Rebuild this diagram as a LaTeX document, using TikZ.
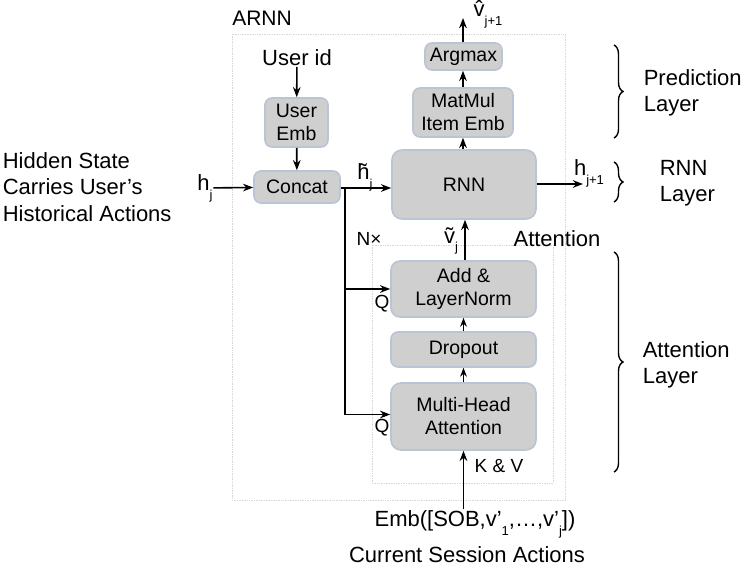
\documentclass[tikz,border=0pt]{standalone}
\usepackage{fontspec}
\setmainfont{Liberation Sans}
\usetikzlibrary{arrows.meta,decorations.pathreplacing}

\definecolor{boxfill}{RGB}{207,207,207}
\definecolor{boxline}{RGB}{185,196,212}
\definecolor{frameline}{RGB}{215,215,215}

\newcommand{\lowsub}[1]{\raisebox{-0.4em}{\fontsize{13}{13}\selectfont #1}}

\tikzset{
  blk/.style={draw=boxline, fill=boxfill, rounded corners=7pt, align=center, inner sep=0pt, font=\fontsize{19.5}{23}\selectfont},
  lbl/.style={align=center, inner sep=0pt, font=\fontsize{22}{26}\selectfont},
  sml/.style={inner sep=0pt, font=\fontsize{19}{22}\selectfont},
  frame/.style={draw=frameline, densely dotted, line width=0.7pt},
  brc/.style={decorate, decoration={brace, amplitude=9pt, aspect=0.5}, line width=1.4pt},
}

\begin{document}
\begin{tikzpicture}[x=1pt, y=-1pt, line width=1.6pt, >=Stealth]
  \useasboundingbox (0,0) rectangle (747,569);
  % frames
  \draw[frame] (232,34) rectangle (565,500);
  \draw[frame] (372,245) rectangle (553,483);
  \node[lbl, font=\fontsize{21}{25}\selectfont] (arnn) at (262,18) {ARNN};

  % blocks
  \node[blk, minimum width=77pt, minimum height=27pt] (argmax) at (463.5,56.5) {Argmax};
  \node[blk, minimum width=100pt, minimum height=49pt] (matmul) at (463,112.5) {MatMul\\Item Emb};
  \node[blk, minimum width=144pt, minimum height=69pt, rounded corners=10pt] (rnn) at (464,184.5) {RNN};
  \node[blk, minimum width=63pt, minimum height=49pt] (useremb) at (296.5,122.5) {User\\Emb};
  \node[blk, minimum width=86pt, minimum height=32pt] (concat) at (297,187) {Concat};
  \node[blk, minimum width=145pt, minimum height=56pt, rounded corners=9pt] (addnorm) at (463.5,289) {Add \&\\LayerNorm};
  \node[blk, minimum width=145pt, minimum height=35pt] (dropout) at (463.5,349.5) {Dropout};
  \node[blk, minimum width=145pt, minimum height=67pt, rounded corners=10pt] (mha) at (463.5,416.5) {Multi-Head\\Attention};

  % texts
  \node[lbl] (userid) at (297,58) {User id};
  \node[lbl, align=left, anchor=west, font=\fontsize{22}{26.5}\selectfont] (hidden) at (2,187) {Hidden State\\Carries User’s\\Historical Actions};
  \node[lbl] (hj) at (205,188) {h\lowsub{j}};
  \node[lbl] (htilde) at (365,177) {h̃\lowsub{j}};
  \node[lbl] (hnext) at (589,173) {h\lowsub{j+1}};
  \node[lbl] (vhat) at (488,14) {v̂\lowsub{j+1}};
  \node[lbl] (vtilde) at (451,241) {ṽ\lowsub{j}};
  \node[sml] (nx) at (369,239) {N×};
  \node[lbl] (attn) at (557,239) {Attention};
  \node[sml] (q1) at (382,304) {Q};
  \node[sml] (q2) at (382,428) {Q};
  \node[sml] (kv) at (499,466) {K \& V};
  \node[lbl] (emb) at (475,524) {Emb([SOB,v’\lowsub{1},…,v’\lowsub{j}])};
  \node[lbl] (session) at (467,555) {Current Session Actions};
  \node[lbl, align=left, anchor=west] (predl) at (643,93) {Prediction\\Layer};
  \node[lbl, align=left, anchor=west] (rnnl) at (659,183) {RNN\\Layer};
  \node[lbl, align=left, anchor=west] (attl) at (642,365) {Attention\\Layer};

  % connectors
  \coordinate (out) at (463,18);
  \coordinate (hout) at (583,184);
  \coordinate (split) at (345,188);
  \draw[->] (argmax.north -| out) -- (out);
  \draw[->] (matmul.north) -- (argmax.south -| matmul.north);
  \draw[->] (rnn.north -| matmul.north) -- (matmul.south);
  \draw[->] (userid) -- (useremb);
  \draw[->] (useremb) -- (concat);
  \draw[->] (hj) -- (concat);
  \draw[->] (concat.east |- split) -- (split -| rnn.west);
  \draw[->] (rnn.east |- hout) -- (hout);
  \draw[->] (split) |- ([yshift=2pt]mha.west);
  \draw[->] (split |- addnorm.west) -- (addnorm.west);
  \draw[->] (addnorm.north -| 465,0) -- (rnn.south -| 465,0);
  \draw[->, line width=1.3pt] (dropout) -- (addnorm);
  \draw[->, line width=1.3pt] (mha) -- (dropout);
  \draw[->] (emb.north -| mha.south) -- (mha.south);

  % braces
  \draw[brc] (614,45) -- (614,138);
  \draw[brc] (614,162) -- (614,202);
  \draw[brc] (614,252) -- (614,472);
\end{tikzpicture}
\end{document}
